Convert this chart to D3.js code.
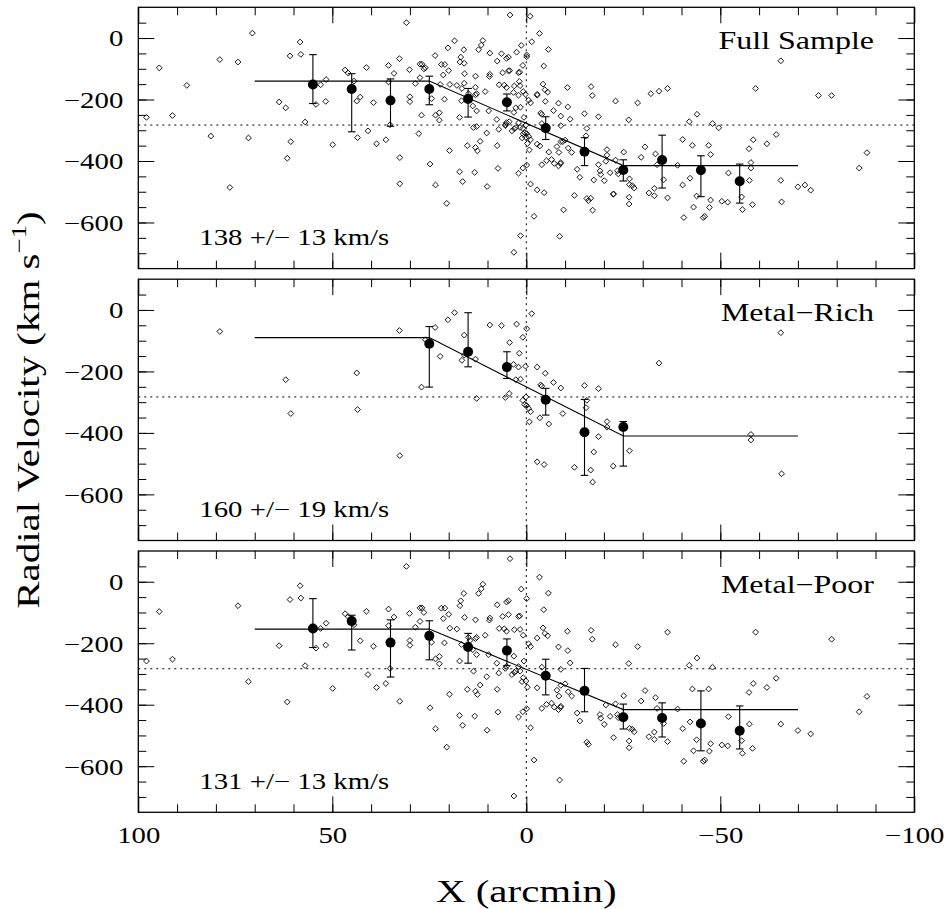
<!DOCTYPE html>
<html>
<head>
<meta charset="utf-8">
<script src="https://cdn.jsdelivr.net/npm/d3@7"></script>
<style>
  body { margin: 0; background: #fff; }
  text { font-family: "Liberation Serif", "Times New Roman", serif; fill: #000; }
</style>
</head>
<body>
<svg id="chart" width="951" height="909"></svg>
<script>

// ---- data ----
const xMajorTicks = [100, 50, 0, -50, -100]
const yMajorTicks = [0, -200, -400, -600]
const systemicV = -283

const panelNames = ['Full Sample', 'Metal\u2212Rich', 'Metal\u2212Poor']
const panelSigma = ['138 +/\u2212 13 km/s', '160 +/\u2212 19 km/s', '131 +/\u2212 13 km/s']

// rotation-curve models (X, V)
const fullModel = [[70, -140], [25, -140], [-25, -415], [-70, -415]]
const richModel = [[70, -90], [25, -90], [-25, -410], [-70, -410]]
const poorModel = [[70, -154], [25, -154], [-25, -416], [-70, -416]]

// binned means with error bar ends
const fullBinX = [55, 45, 35, 25, 15, 5, -5, -15, -25, -35, -45, -55]
const fullBinV = [-151, -166, -203, -166, -198, -209, -293, -370, -429, -397, -430, -466]
const fullBinHi = [-54, -116, -133, -124, -164, -182, -256, -324, -396, -316, -383, -410]
const fullBinLo = [-213, -305, -287, -217, -257, -237, -330, -415, -465, -488, -516, -537]

const richBinX = [25, 15, 5, -5, -15, -25]
const richBinV = [-110, -136, -186, -292, -398, -381]
const richBinHi = [-54, -9, -136, -255, -291, -363]
const richBinLo = [-251, -185, -223, -342, -538, -508]

const poorBinX = [55, 45, 35, 25, 15, 5, -5, -15, -25, -35, -45, -55]
const poorBinV = [-152, -128, -198, -176, -212, -224, -306, -355, -441, -443, -461, -485]
const poorBinHi = [-55, -109, -124, -127, -168, -186, -252, -282, -398, -394, -355, -404]
const poorBinLo = [-214, -222, -310, -254, -265, -273, -368, -423, -479, -505, -550, -544]

// individual stars (X arcmin, V km/s)
const richStars = [
  [79, -70], [62, -227], [60.7, -337], [43.7, -205], [43.5, -324], [32.7, -67], [32.6, -474],
  [27, -251], [26, -97], [23.5, -57], [22.2, -151], [20.2, -32], [18.5, -9], [16, -82],
  [16.6, -164], [16, -147], [13.1, -160], [12.8, -288], [9.4, -49], [6.4, -51], [4.3, -106],
  [2.5, -46], [3.3, -177], [2, -186], [1.8, -141], [2.7, -227], [1.5, -225], [5.4, -285],
  [4.4, -272], [0.9, -89], [-0.1, -61], [-1.4, -12], [0.2, -183], [0.1, -283], [0.9, -294],
  [0.4, -308], [-0.1, -311], [-0.6, -320], [-1.1, -331], [-0.8, -364], [-2.8, -186],
  [-3.7, -244], [-4, -248], [-4.9, -206], [-7, -236], [-8.9, -254], [-3.5, -351], [-5.8, -371],
  [-9.4, -337], [-2.8, -494], [-4.6, -503], [-15, -246], [-18.6, -256], [-15.6, -294],
  [-15.4, -318], [-12.4, -512], [-16.6, -521], [-17.4, -462], [-17.1, -560], [-18.6, -412],
  [-20.8, -363], [-20.8, -381], [-22.4, -508], [-26.6, -458], [-34.2, -173], [-57.9, -405],
  [-57.9, -423], [-65.6, -74], [-65.8, -533]
]

const poorStars = [
  [97.9, -258], [94.6, -97], [91.2, -252], [74.3, -78], [71.6, -325], [63.7, -208], [61.6, -391],
  [60.9, -58], [58.3, -13], [58.1, -53], [57, -273], [54.2, -216], [53, -152], [51.6, -135],
  [51.7, -206], [49.9, -347], [46.7, -104], [45.9, -114], [44.4, -140], [42.8, -192], [41.2, -96],
  [40.8, -302], [39.4, -210], [38.6, -344],
  [30.9, 50], [4.2, 75], [11.2, -8], [11.6, -23], [12.3, -38], [16.1, -38], [16.9, -62],
  [17.1, -78], [1.3, -24], [-0.1, -55], [5.1, -66], [4.6, -62], [7.5, -75], [35.5, -89],
  [30.1, -103], [27.4, -85], [26.9, -85], [26.4, -100], [21.9, -86], [21, -86], [20, -106],
  [21.4, -120], [15.9, -116], [13.1, -124], [9.4, -118], [9.5, -125], [6.1, -113], [4.6, -107],
  [2, -113], [1.7, -111], [34.1, -115], [27.4, -129], [19.7, -151], [17.9, -154], [7, -152],
  [5.7, -153], [5.1, -161], [3.1, -156], [1.6, -155], [0.8, -174], [35.5, -143], [28.6, -148],
  [10.6, -174], [12.8, -181], [13.1, -185], [14.9, -181], [14.5, -191], [30, -191], [30, -207],
  [24.4, -197], [21.1, -199], [16.7, -204], [13.8, -221], [12.8, -237], [9.7, -237], [3.2, -242],
  [-0.6, -202], [-1.1, -211], [-2.8, -183], [23.4, -251], [22.4, -243], [22.4, -267],
  [17.2, -258], [7.6, -265], [13.6, -291], [10.2, -309], [7.1, -297], [5.4, -282], [5.1, -275],
  [3.7, -302], [3.1, -295], [2.7, -291], [2, -276], [1.6, -291], [0.6, -258], [0.8, -312],
  [1.1, -325], [0.1, -323], [-0.3, -343], [-2.8, -345], [36.2, -331], [35.1, -282], [32.6, -389],
  [24.8, -410], [19.8, -366], [15.2, -350], [13.1, -356], [12.6, -367], [11.9, -336], [7.5, -350],
  [17.2, -435], [13.3, -437], [23.4, -478], [16.4, -467], [10.1, -483], [7.3, -424], [2, -440],
  [0.9, -423], [-0.1, -413], [-1.1, -475], [20.5, -538], [-2, -580], [3.2, -697],
  [-3.4, 15], [-5.7, -37], [-4.5, -91], [-4.3, -150], [-4.8, -168], [-5.5, -176], [-10.6, -161],
  [-16.7, -158], [-17, -187], [-8.3, -212], [-10.7, -224], [-11.3, -264], [-4, -278],
  [-8.9, -285], [-10, -332], [-8.9, -337], [-7.9, -353], [-8.4, -372], [-10.8, -358],
  [-11.7, -372], [-5.2, -399], [-4, -412], [-6.5, -395], [-7.2, -408], [-8.3, -416],
  [-8.8, -409], [-8.9, -405], [-13.1, -427], [-13.8, -453], [-15.6, -522], [-16, -529],
  [-8.6, -645], [-23, -205], [-28.7, -211], [-26.4, -266], [-23, -397], [-20.5, -401],
  [-19, -432], [-19.2, -444], [-20.1, -464], [-21.6, -438], [-23.5, -432], [-23.7, -442],
  [-25.1, -371], [-26.6, -477], [-27.3, -480], [-27.8, -488], [-26.5, -518], [-26.5, -540],
  [-22.5, -507], [-29.6, -388], [-30.6, -354], [-33.3, -377], [-33.7, -412], [-31.6, -504],
  [-33, -489], [-33, -513], [-35.4, -461], [-36.4, -520], [-36.4, -164], [-39, -414],
  [-40.3, -478], [-40.6, -584], [-42, -272], [-42.8, -349], [-44, -248], [-42.2, -456],
  [-43.9, -514], [-43.1, -550],
  [-48, -278], [-47, -349], [-47.5, -527], [-47.2, -551], [-46, -580], [-45.6, -584],
  [-50.4, -531], [-51.9, -534], [-52.1, -439], [-57.5, -463], [-55.5, -517], [-55.7, -558],
  [-58.3, -542], [-57.4, -360], [-58.5, -331], [-59.1, -164], [-62, -344], [-64.4, -314],
  [-65.6, -463], [-70, -484], [-73.3, -495], [-78.7, -187], [-85.8, -423], [-87.8, -373]
]

// stars in the full sample with no metallicity class
const unclassStars = [
  [87.5, -154], [81.3, -319], [76.4, -486], [70.6, 16], [27.7, -311], [-1, 71], [1.5, -643],
  [-9.6, -559], [-32.1, -181], [-49.6, -292], [-40.3, -330], [-47.5, -379], [-71.8, -478],
  [-75.3, -187]
]

const fullStars = richStars.concat(poorStars, unclassStars)

const panels = [
  {stars: fullStars, model: fullModel, bx: fullBinX, bv: fullBinV, hi: fullBinHi, lo: fullBinLo},
  {stars: richStars, model: richModel, bx: richBinX, bv: richBinV, hi: richBinHi, lo: richBinLo},
  {stars: poorStars, model: poorModel, bx: poorBinX, bv: poorBinV, hi: poorBinHi, lo: poorBinLo}
]

// ---- layout ----
const svg = d3.select('#chart')
const left = 138.3, right = 914.3
const panelTops = [7.3, 279.2, 551]
const panelH = 261.3
const stretch = 'scale(1.28,1)'   // the plot font is wider than Times

const x = d3.scaleLinear().domain([100, -100]).range([left, right])
const xMinor = d3.range(-90, 100, 10)
const yMinor = d3.range(-700, 51, 50)

const diamond = 'M0,-2.9L2.9,0L0,2.9L-2.9,0Z'

function label(g, px, py, str, size, anchor) {
  return g.append('text')
    .attr('transform', `translate(${px},${py}) ${stretch}`)
    .attr('text-anchor', anchor)
    .style('font-size', size + 'px')
    .text(str)
}

function ticks(g, axis, tx, ty) {
  g.append('g')
    .attr('transform', `translate(${tx},${ty})`)
    .call(axis.tickSizeOuter(0))
    .call(a => a.select('.domain').remove())
    .call(a => a.selectAll('line').attr('stroke', '#000').attr('stroke-width', 1))
}

panels.forEach((p, i) => {
  const top = panelTops[i]
  const bottom = top + panelH
  const y = d3.scaleLinear().domain([-750, 100]).range([bottom, top])
  const g = svg.append('g')

  // dotted reference lines
  g.append('line')
    .attr('x1', left).attr('x2', right)
    .attr('y1', y(systemicV)).attr('y2', y(systemicV))
    .attr('stroke', '#000').attr('stroke-width', 1).attr('stroke-dasharray', '2,4')
  g.append('line')
    .attr('x1', x(0)).attr('x2', x(0))
    .attr('y1', top).attr('y2', bottom)
    .attr('stroke', '#000').attr('stroke-width', 1).attr('stroke-dasharray', '2,4')

  // ticks on all four sides, pointing in
  ticks(g, d3.axisBottom(x).tickValues(xMinor).tickSize(-8).tickFormat(''), 0, bottom)
  ticks(g, d3.axisBottom(x).tickValues(xMajorTicks).tickSize(-16).tickFormat(''), 0, bottom)
  ticks(g, d3.axisTop(x).tickValues(xMinor).tickSize(-8).tickFormat(''), 0, top)
  ticks(g, d3.axisTop(x).tickValues(xMajorTicks).tickSize(-16).tickFormat(''), 0, top)
  ticks(g, d3.axisLeft(y).tickValues(yMinor).tickSize(-8).tickFormat(''), left, 0)
  ticks(g, d3.axisRight(y).tickValues(yMinor).tickSize(-8).tickFormat(''), right, 0)
  ticks(g, d3.axisRight(y).tickValues(yMajorTicks).tickSize(-16).tickFormat(''), right, 0)

  // left axis with labels
  g.append('g')
    .attr('transform', `translate(${left},0)`)
    .call(d3.axisLeft(y).tickValues(yMajorTicks).tickSize(-16).tickSizeOuter(0).tickFormat(d3.format('d')))
    .call(a => a.select('.domain').remove())
    .call(a => a.selectAll('line').attr('stroke', '#000').attr('stroke-width', 1))
    .call(a => a.selectAll('text')
      .attr('x', null).attr('dy', '0.35em')
      .attr('transform', `translate(-15,0) ${stretch}`)
      .attr('font-family', null)
      .style('font-size', '22.5px'))

  if (i === panels.length - 1) {
    g.append('g')
      .attr('transform', `translate(0,${bottom})`)
      .call(d3.axisBottom(x).tickValues(xMajorTicks).tickSize(0).tickSizeOuter(0).tickFormat(d3.format('d')))
      .call(a => a.select('.domain').remove())
      .call(a => a.selectAll('text')
        .attr('y', null).attr('dy', null)
        .attr('transform', `translate(0,30.7) ${stretch}`)
        .style('font-size', '22.5px'))
  }

  // stars
  g.append('g').selectAll('path')
    .data(p.stars)
    .join('path')
    .attr('d', diamond)
    .attr('transform', d => `translate(${x(d[0])},${y(d[1])})`)
    .attr('fill', 'none')
    .attr('stroke', '#000')
    .attr('stroke-width', 0.9)

  // model
  g.append('path')
    .datum(p.model)
    .attr('d', d3.line().x(d => x(d[0])).y(d => y(d[1])))
    .attr('fill', 'none')
    .attr('stroke', '#000')
    .attr('stroke-width', 1.1)

  // binned means with error bars
  const bins = p.bx.map((bx, k) => ({x: bx, v: p.bv[k], hi: p.hi[k], lo: p.lo[k]}))
  const eb = g.append('g').attr('stroke', '#000').attr('stroke-width', 1.1)
  eb.selectAll('.bar').data(bins).join('line').attr('class', 'bar')
    .attr('x1', d => x(d.x)).attr('x2', d => x(d.x))
    .attr('y1', d => y(d.hi)).attr('y2', d => y(d.lo))
  eb.selectAll('.capHi').data(bins).join('line').attr('class', 'capHi')
    .attr('x1', d => x(d.x) - 3.8).attr('x2', d => x(d.x) + 3.8)
    .attr('y1', d => y(d.hi)).attr('y2', d => y(d.hi))
  eb.selectAll('.capLo').data(bins).join('line').attr('class', 'capLo')
    .attr('x1', d => x(d.x) - 3.8).attr('x2', d => x(d.x) + 3.8)
    .attr('y1', d => y(d.lo)).attr('y2', d => y(d.lo))
  g.append('g').selectAll('circle')
    .data(bins)
    .join('circle')
    .attr('cx', d => x(d.x))
    .attr('cy', d => y(d.v))
    .attr('r', 5)
    .attr('fill', '#000')

  // frame
  g.append('rect')
    .attr('x', left).attr('y', top)
    .attr('width', right - left).attr('height', panelH)
    .attr('fill', 'none')
    .attr('stroke', '#000')
    .attr('stroke-width', 1.3)

  label(g, 874, top + 42, panelNames[i], 25, 'end')
  label(g, 199.3, top + 237.5, panelSigma[i], 22.5, 'start')
})

// axis titles
label(svg, (left + right) / 2, 901.7, 'X (arcmin)', 32, 'middle')

const yTitle = svg.append('text')
  .attr('transform', `translate(39,410) rotate(-90) ${stretch}`)
  .attr('text-anchor', 'middle')
  .style('font-size', '32px')
yTitle.append('tspan').text('Radial Velocity (km s')
yTitle.append('tspan').style('font-size', '21px').attr('dy', -13).text('\u22121')
yTitle.append('tspan').attr('dy', 13).text(')')

</script>
</body>
</html>
